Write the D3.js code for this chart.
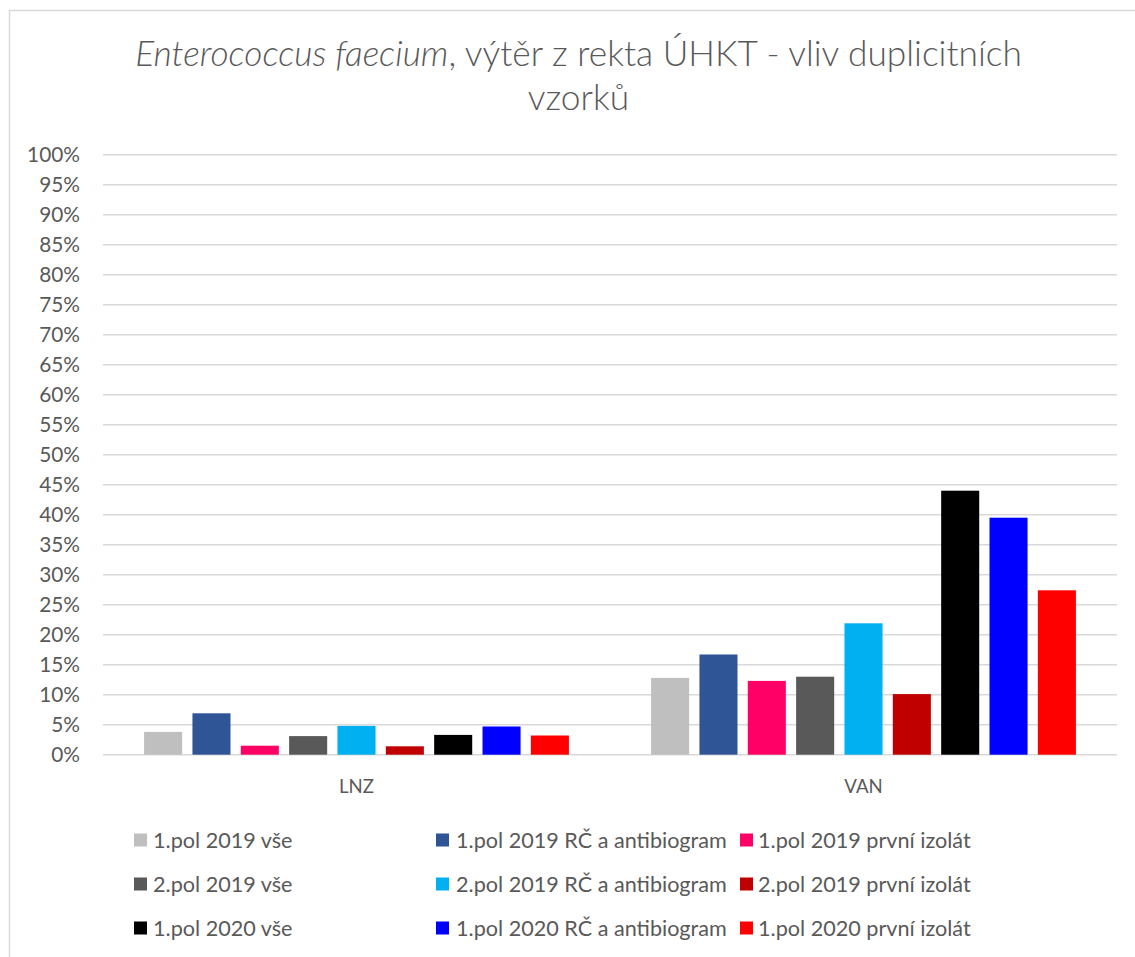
<!DOCTYPE html>
<html><head><meta charset="utf-8">
<script src="https://cdn.jsdelivr.net/npm/d3@7"></script>
<style>body{margin:0;background:#fff}svg{display:block}</style>
</head><body>
<svg id="c" width="1135" height="957"></svg>
<script>
const categories = ["LNZ", "VAN"];
const seriesNames = [
  "1.pol 2019 vše", "1.pol 2019 RČ a antibiogram", "1.pol 2019 první izolát",
  "2.pol 2019 vše", "2.pol 2019 RČ a antibiogram", "2.pol 2019 první izolát",
  "1.pol 2020 vše", "1.pol 2020 RČ a antibiogram", "1.pol 2020 první izolát"
];
const lnzValues = [3.8, 6.9, 1.5, 3.1, 4.8, 1.4, 3.3, 4.7, 3.2];
const vanValues = [12.8, 16.7, 12.3, 13.0, 21.9, 10.1, 44.0, 39.5, 27.4];
const seriesColors = ["#bfbfbf", "#2f5597", "#ff0066", "#595959", "#00b0f0", "#c00000", "#000000", "#0000ff", "#ff0000"];
const yTicks = [0,5,10,15,20,25,30,35,40,45,50,55,60,65,70,75,80,85,90,95,100];

const valuesByCat = {LNZ: lnzValues, VAN: vanValues};
const textColor = "#595959";
const font = "Lato, 'Open Sans', sans-serif";

const svg = d3.select("#c");
function fit(sel, w) {
  const node = sel.node();
  const fs = parseFloat(sel.attr("font-size"));
  const cw = node.getComputedTextLength();
  const nf = fs * w / cw;
  sel.attr("font-size", nf);
  return nf;
}

// chart border
svg.append("rect").attr("x", 9.5).attr("y", 10.5).attr("width", 1140).attr("height", 960)
  .attr("fill", "none").attr("stroke", "#d9d9d9").attr("stroke-width", 1.5);

// title
const t1 = svg.append("text").attr("x", 578.5).attr("y", 66).attr("text-anchor", "middle")
  .attr("font-family", font).attr("font-weight", 300).attr("font-size", 32).attr("fill", textColor);
t1.append("tspan").attr("font-style", "italic").text("Enterococcus faecium");
t1.append("tspan").text(", výtěr z rekta ÚHKT - vliv duplicitních");
const tfs = fit(t1, 887);
svg.append("text").attr("x", 578.5).attr("y", 110).attr("text-anchor", "middle")
  .attr("font-family", font).attr("font-weight", 300).attr("font-size", tfs).attr("fill", textColor)
  .text("vzorků");

const x0 = d3.scaleBand().domain(categories).range([103, 1117]);
const x1 = d3.scaleBand().domain(d3.range(seriesNames.length)).range([0, x0.bandwidth()])
  .paddingInner(0.213).paddingOuter(0.85);
const y = d3.scaleLinear().domain([0, 100]).range([754.7, 154.7]);

// gridlines
svg.append("g").selectAll("line").data(yTicks).join("line")
  .attr("x1", 103).attr("x2", 1117)
  .attr("y1", d => y(d)).attr("y2", d => y(d))
  .attr("stroke", "#d9d9d9").attr("stroke-width", 1.5);

// y tick labels
const yl = svg.append("g").selectAll("text").data(yTicks).join("text")
  .attr("x", 80).attr("y", d => y(d)).attr("dy", "0.36em").attr("text-anchor", "end")
  .attr("font-family", font).attr("font-size", 20).attr("fill", textColor)
  .text(d => d + "%");
const probe = svg.append("text").attr("font-family", font).attr("font-size", 20).text("100%");
const yfs = fit(probe, 53); probe.remove();
yl.attr("font-size", yfs);

// bars
const groups = svg.append("g").selectAll("g").data(categories).join("g")
  .attr("transform", d => `translate(${x0(d)},0)`);
groups.selectAll("rect").data(c => valuesByCat[c].map((v, i) => ({v, i}))).join("rect")
  .attr("x", d => x1(d.i)).attr("width", x1.bandwidth())
  .attr("y", d => y(d.v)).attr("height", d => y(0) - y(d.v))
  .attr("fill", d => seriesColors[d.i]);

// category labels
const cl = svg.append("g").selectAll("text").data(categories).join("text")
  .attr("x", d => x0(d) + x0.bandwidth() / 2).attr("y", 786).attr("dy", "0.36em")
  .attr("text-anchor", "middle").attr("font-family", font).attr("font-size", 20).attr("fill", textColor)
  .text(d => d);
const probe2 = svg.append("text").attr("font-family", font).attr("font-size", 20).text("LNZ");
const cfs = fit(probe2, 35); probe2.remove();
cl.attr("font-size", cfs);

// legend
const colSw = [134, 436, 740];
const colTx = [153, 456, 758];
const rowY = [840, 884, 928];
const probe3 = svg.append("text").attr("font-family", font).attr("font-size", 20).text("1.pol 2019 RČ a antibiogram");
const lfs = fit(probe3, 271); probe3.remove();
const lg = svg.append("g").selectAll("g").data(seriesNames).join("g");
lg.append("rect").attr("x", (d, i) => colSw[i % 3]).attr("y", (d, i) => rowY[Math.floor(i / 3)] - 6.5)
  .attr("width", 13).attr("height", 13).attr("fill", (d, i) => seriesColors[i]);
lg.append("text").attr("x", (d, i) => colTx[i % 3]).attr("y", (d, i) => rowY[Math.floor(i / 3)])
  .attr("dy", "0.36em").attr("font-family", font).attr("font-size", lfs).attr("fill", textColor)
  .text(d => d);
</script>
</body></html>
